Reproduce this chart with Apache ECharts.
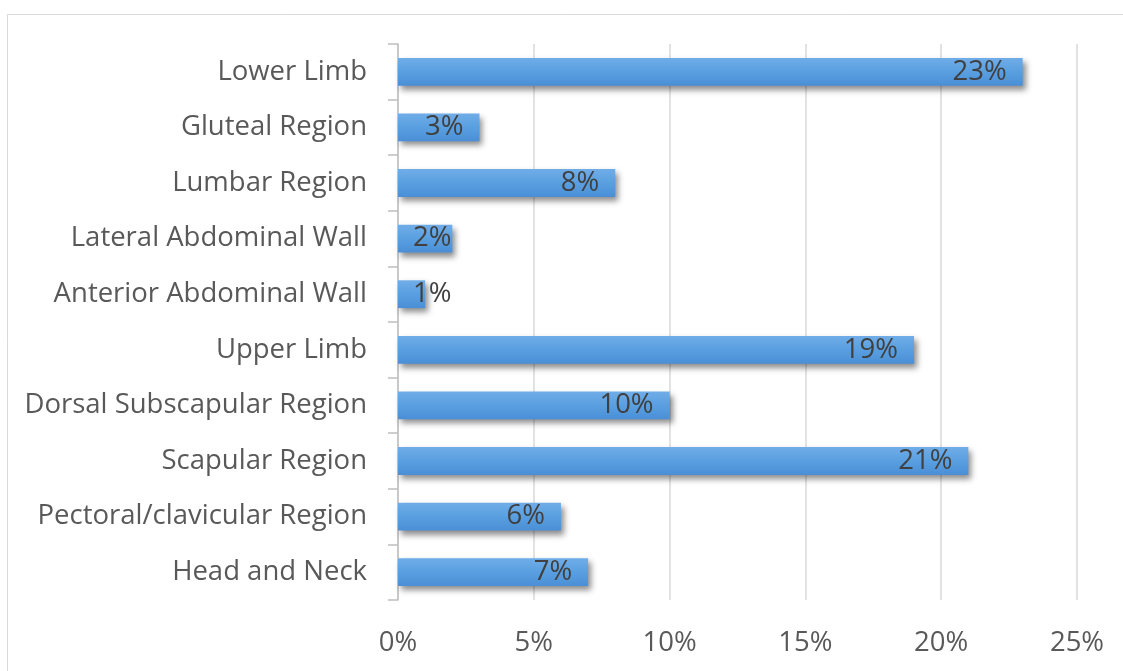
<!DOCTYPE html>
<html><head><meta charset="utf-8">
<script src="https://cdn.jsdelivr.net/npm/echarts@6/dist/echarts.min.js"></script>
<style>html,body{margin:0;padding:0;background:#fff}#c{width:1123px;height:671px;position:relative}</style>
</head><body><div id="c"></div>
<script>
const categories = ["Head and Neck","Pectoral/clavicular Region","Scapular Region","Dorsal Subscapular Region","Upper Limb","Anterior Abdominal Wall","Lateral Abdominal Wall","Lumbar Region","Gluteal Region","Lower Limb"];
const values = [7, 6, 21, 10, 19, 1, 2, 8, 3, 23];
const xTicks = [0, 5, 10, 15, 20, 25];

const chart = echarts.init(document.getElementById('c'));
const font = '"Open Sans", sans-serif';
const fs = 27.5;
// labels of very short bars start near the bar's base (as in the source)
const seriesData = values.map(v => v < 3
  ? {value: v, label: {position: 'insideLeft', distance: 15}}
  : v);
chart.setOption({
  animation: false,
  graphic: [{type:'rect', shape:{x:7.5,y:14.5,width:1200,height:700}, style:{fill:'none',stroke:'#d9d9d9',lineWidth:1}, z:-10}],
  grid: {left: 398, right: 46, top: 44, bottom: 71},
  xAxis: {
    type: 'value', min: xTicks[0], max: xTicks[xTicks.length-1], interval: 5,
    axisLine: {show: false}, axisTick: {show: false},
    splitLine: {lineStyle: {color: '#d9d9d9', width: 1.5}},
    axisLabel: {formatter: '{value}%', color: '#595959', fontSize: fs, fontFamily: font, margin: 29}
  },
  yAxis: {
    type: 'category', data: categories,
    axisLine: {lineStyle: {color: '#bfbfbf', width: 1.5}},
    axisTick: {show: true, length: 10, lineStyle: {color: '#bfbfbf', width: 1.5}},
    axisLabel: {color: '#595959', fontSize: fs, fontFamily: font, margin: 31, padding: [4, 0, 0, 0]}
  },
  series: [{
    type: 'bar', data: seriesData, barCategoryGap: '50%',
    itemStyle: {
      color: {type:'linear', x:0, y:0, x2:0, y2:1, colorStops:[{offset:0,color:'#70ade8'},{offset:0.5,color:'#599fe0'},{offset:1,color:'#4a8fd6'}]},
      shadowColor: 'rgba(0,0,0,0.45)', shadowBlur: 6, shadowOffsetX: 3, shadowOffsetY: 4
    },
    label: {show: true, position: 'insideRight', distance: 16, formatter: '{c}%', color: '#404040', fontSize: fs, fontFamily: font, padding: [4, 0, 0, 0]}
  }]
});
</script></body></html>
